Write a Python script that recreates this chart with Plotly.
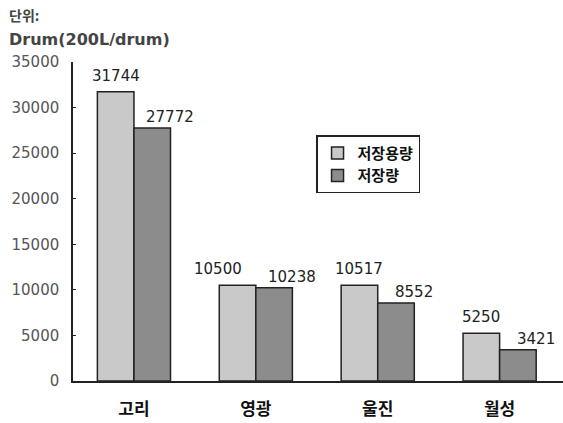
import plotly.graph_objects as go

categories = ["고리", "영광", "울진", "월성"]
capacity = [31744, 10500, 10517, 5250]
stored = [27772, 10238, 8552, 3421]
series_names = ["저장용량", "저장량"]
y_ticks = [0, 5000, 10000, 15000, 20000, 25000, 30000, 35000]

fig = go.Figure()
fig.add_bar(x=list(range(len(categories))), y=capacity, name=series_names[0],
            marker=dict(color="#c9c9c9", line=dict(color="#222", width=1.5)))
fig.add_bar(x=list(range(len(categories))), y=stored, name=series_names[1],
            marker=dict(color="#8c8c8c", line=dict(color="#222", width=1.5)))

annotations = [
    dict(text="<b>단위:</b>", x=0, y=1, xref="paper", yref="paper", xanchor="left", yanchor="top",
         showarrow=False, font=dict(size=14, color="#444", family="Noto Sans CJK KR"),
         xshift=-66, yshift=59),
    dict(text="<b>Drum(200L/drum)</b>", x=0, y=1, xref="paper", yref="paper", xanchor="left", yanchor="top",
         showarrow=False, font=dict(size=16, color="#444", family="DejaVu Sans"),
         xshift=-66, yshift=34),
]
light_shift = [0, -20, 0, 0]
for i, v in enumerate(capacity):
    annotations.append(dict(text=str(v), x=i - 0.15, y=v, xref="x", yref="y", showarrow=False,
                            xanchor="center", yanchor="bottom", xshift=light_shift[i], yshift=5,
                            font=dict(size=15, color="#222", family="DejaVu Sans")))
for i, v in enumerate(stored):
    annotations.append(dict(text=str(v), x=i + 0.15, y=v, xref="x", yref="y", showarrow=False,
                            xanchor="center", yanchor="bottom", xshift=18, yshift=0,
                            font=dict(size=15, color="#222", family="DejaVu Sans")))

fig.update_layout(
    width=563, height=423,
    margin=dict(l=73, r=0, t=62, b=42),
    paper_bgcolor="white", plot_bgcolor="white",
    barmode="group", bargap=0.4, bargroupgap=0,
    font=dict(family="Noto Sans CJK KR", color="#333"),
    showlegend=True,
    legend=dict(x=0.496, y=0.77, xanchor="left", yanchor="top",
                bordercolor="#222", borderwidth=1.5, bgcolor="white",
                font=dict(size=15, color="#111", family="Noto Sans CJK KR", weight="bold"),
                itemwidth=30, tracegroupgap=0),
    annotations=annotations,
)
fig.update_xaxes(showline=True, linecolor="#222", linewidth=1.5, ticks="inside", ticklen=4,
                 tickson="boundaries", tickcolor="#222", range=[-0.5, 3.52],
                 tickvals=list(range(len(categories))), ticktext=categories,
                 tickfont=dict(size=17, color="#111", family="Noto Sans CJK KR", weight="bold"),
                 ticklabelstandoff=12)
fig.update_yaxes(range=[0, 35000], tickvals=y_ticks, ticktext=[str(v) for v in y_ticks],
                 showline=True, linecolor="#222", linewidth=1.5, ticks="inside", ticklen=3,
                 tickcolor="#222", showgrid=False, zeroline=False,
                 tickfont=dict(size=15, color="#555", family="DejaVu Sans"),
                 ticklabelstandoff=9)

fig.write_html("out.html")
